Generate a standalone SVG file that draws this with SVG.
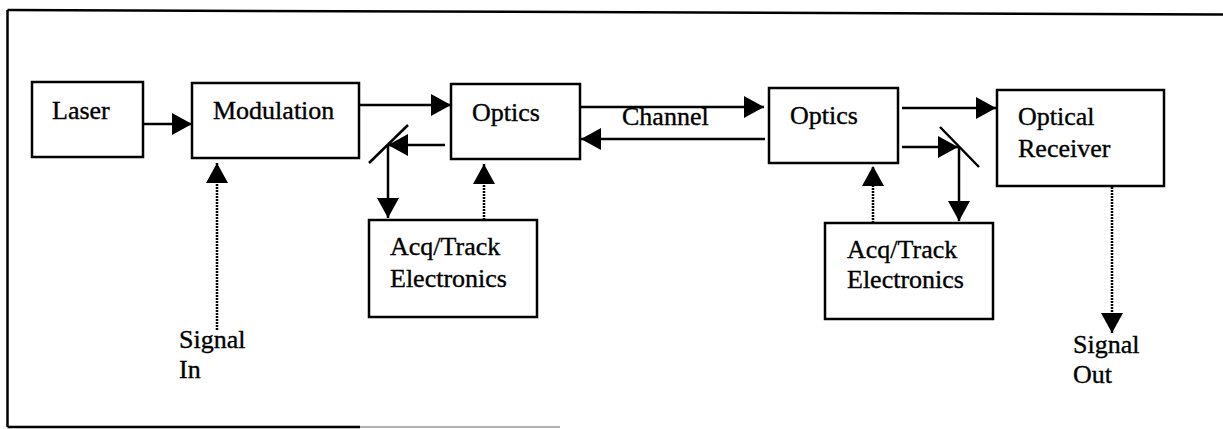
<svg xmlns="http://www.w3.org/2000/svg" width="1223" height="429" viewBox="0 0 1223 429">
<defs>
<marker id="ah" markerUnits="userSpaceOnUse" markerWidth="20" markerHeight="22" refX="20" refY="11" orient="auto" viewBox="0 0 20 22">
<path d="M0,0 L20,11 L0,22 Z" fill="#000"/>
</marker>
<style>
.box{fill:#fff;stroke:#000;stroke-width:2.5}
.t{font-family:"Liberation Serif","Times New Roman",serif;font-size:26px;fill:#000;stroke:#000;stroke-width:0.35}
.ln{stroke:#000;stroke-width:2.5;fill:none}
.dot{stroke:#000;stroke-width:2.5;fill:none;stroke-dasharray:2 1}
.mir{stroke:#000;stroke-width:2.5;fill:none}
.frame{stroke:#000;stroke-width:2.5;fill:none}
</style>
</defs>
<rect width="1223" height="429" fill="#fff"/>
<g id="frame">
<line class="frame" x1="7.5" y1="10" x2="1223" y2="14.5"/>
<line class="frame" x1="7.5" y1="10" x2="7.5" y2="427"/>
<line class="frame" x1="7.5" y1="427" x2="360" y2="427"/>
<line x1="360" y1="427" x2="560" y2="427" stroke="#999" stroke-width="1.5"/>
</g>
<g id="connectors">
<line class="ln" x1="143" y1="124" x2="192" y2="124" marker-end="url(#ah)"/>
<line class="dot" x1="217" y1="330" x2="217" y2="163" marker-end="url(#ah)"/>
<line class="ln" x1="359" y1="105" x2="451" y2="105" marker-end="url(#ah)"/>
<line class="ln" x1="445" y1="145" x2="388" y2="145" marker-end="url(#ah)"/>
<line class="mir" x1="369" y1="163" x2="408" y2="125"/>
<line class="ln" x1="388" y1="145" x2="388" y2="218" marker-end="url(#ah)"/>
<line class="dot" x1="484" y1="220" x2="484" y2="164" marker-end="url(#ah)"/>
<line class="ln" x1="580" y1="107" x2="764" y2="107" marker-end="url(#ah)"/>
<line class="ln" x1="765" y1="139" x2="581" y2="139" marker-end="url(#ah)"/>
<line class="ln" x1="902" y1="108" x2="996" y2="108" marker-end="url(#ah)"/>
<line class="ln" x1="902" y1="147" x2="958" y2="147" marker-end="url(#ah)"/>
<line class="mir" x1="940" y1="127" x2="979" y2="167"/>
<line class="ln" x1="959" y1="147" x2="959" y2="221" marker-end="url(#ah)"/>
<line class="dot" x1="873" y1="223" x2="873" y2="166" marker-end="url(#ah)"/>
<line class="dot" x1="1112" y1="187" x2="1112" y2="333" marker-end="url(#ah)"/>
</g>
<g id="laser">
<rect class="box" x="32" y="82" width="111" height="75"/>
<text class="t" x="52" y="119">Laser</text>
</g>
<g id="modulation">
<rect class="box" x="192" y="83" width="167" height="75"/>
<text class="t" x="213" y="119">Modulation</text>
</g>
<g id="optics1">
<rect class="box" x="451" y="84" width="129" height="75"/>
<text class="t" x="472" y="121">Optics</text>
</g>
<g id="channel-label">
<text class="t" x="622" y="125">Channel</text>
</g>
<g id="optics2">
<rect class="box" x="769" y="88" width="129" height="75"/>
<text class="t" x="790" y="124">Optics</text>
</g>
<g id="receiver">
<rect class="box" x="997" y="90" width="167" height="96"/>
<text class="t" x="1018" y="125">Optical</text>
<text class="t" x="1018" y="157">Receiver</text>
</g>
<g id="acq1">
<rect class="box" x="369" y="220" width="168" height="97"/>
<text class="t" x="390" y="255">Acq/Track</text>
<text class="t" x="390" y="287">Electronics</text>
</g>
<g id="acq2">
<rect class="box" x="825" y="223" width="168" height="96"/>
<text class="t" x="847" y="258">Acq/Track</text>
<text class="t" x="847" y="288">Electronics</text>
</g>
<g id="signal-in">
<text class="t" x="179" y="348">Signal</text>
<text class="t" x="179" y="378">In</text>
</g>
<g id="signal-out">
<text class="t" x="1073" y="353">Signal</text>
<text class="t" x="1073" y="383">Out</text>
</g>
</svg>
